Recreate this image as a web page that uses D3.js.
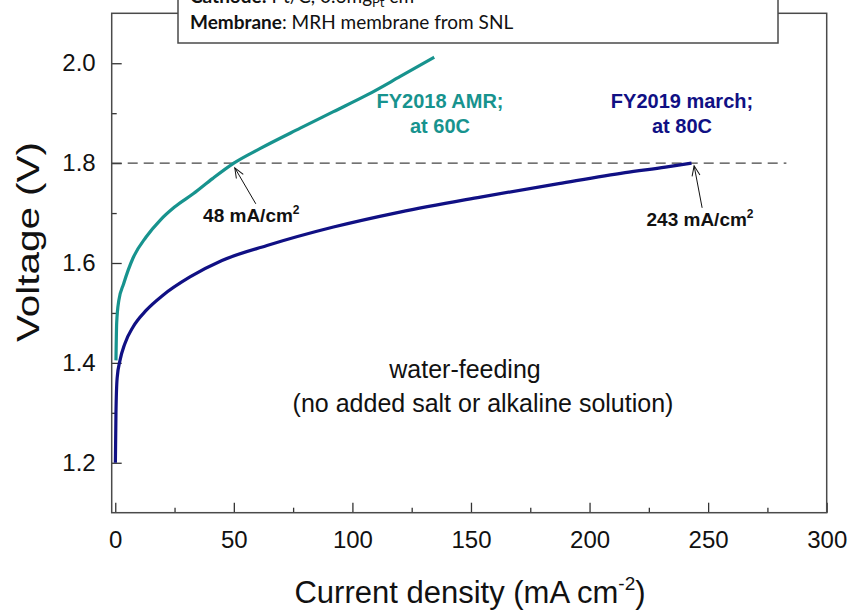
<!DOCTYPE html>
<html>
<head>
<meta charset="utf-8">
<script src="https://cdn.jsdelivr.net/npm/d3@7"></script>
<style>
  body { margin: 0; background: #fff; }
  svg { display: block; font-family: Arial, "Liberation Sans", sans-serif; }
</style>
</head>
<body>
<div id="chart"></div>
<script>
// FY2018 AMR, at 60C (teal curve)
const amrCurrent = [0.3, 0.6, 1.5, 3.5, 7.5, 13, 19, 25, 33, 41, 50, 61, 78, 92, 106, 120, 134.5];
const amrVoltage = [1.405, 1.48, 1.525, 1.558, 1.61, 1.652, 1.686, 1.712, 1.739, 1.769, 1.80, 1.829, 1.870, 1.903, 1.936, 1.973, 2.012];

// FY2019 march, at 80C (navy curve)
const marchCurrent = [0.05, 0.3, 0.8, 2, 4, 7.5, 13, 20, 31.5, 45, 64, 92, 120, 154, 187, 215, 232, 243];
const marchVoltage = [1.20, 1.30, 1.37, 1.405, 1.438, 1.472, 1.505, 1.535, 1.572, 1.605, 1.635, 1.672, 1.702, 1.732, 1.759, 1.781, 1.792, 1.80];

// axis ticks
const xTicks = [0, 50, 100, 150, 200, 250, 300];
const xMinor = [25, 75, 125, 175, 225, 275];
const yTicks = [1.2, 1.4, 1.6, 1.8, 2.0];
const yMinor = [1.3, 1.5, 1.7, 1.9];

// 1.8 V reference and the currents reached there
const refVoltage = 1.8;
const refEnd = 283;
const refCurrents = [48, 243];

const width = 852, height = 612;
const frame = { left: 111.7, right: 826.7, top: 13.3, bottom: 512.7 };

const svg = d3.select('#chart').append('svg')
  .attr('width', width)
  .attr('height', height);

const x = d3.scaleLinear().domain([-1.5, 300]).range([frame.left, frame.right]);
const y = d3.scaleLinear().domain([1.1, 2.1]).range([frame.bottom, frame.top]);

const teal = '#17938e';
const navy = '#101084';

// y axis, ticks pointing inside
svg.append('g')
  .attr('transform', `translate(${frame.left},0)`)
  .call(d3.axisLeft(y).tickValues(yTicks).tickSize(-10).tickPadding(16).tickFormat(d3.format('.1f')));
svg.append('g')
  .attr('transform', `translate(${frame.left},0)`)
  .call(d3.axisLeft(y).tickValues(yMinor).tickSize(-5).tickFormat(''));

// x axis
svg.append('g')
  .attr('transform', `translate(0,${frame.bottom})`)
  .call(d3.axisBottom(x).tickValues(xTicks).tickSize(-10).tickPadding(18));
svg.append('g')
  .attr('transform', `translate(0,${frame.bottom})`)
  .call(d3.axisBottom(x).tickValues(xMinor).tickSize(-5).tickFormat(''));

svg.selectAll('.domain').remove();
svg.selectAll('.tick line').attr('stroke', '#333').attr('stroke-width', 1.3);
svg.selectAll('.tick text')
  .attr('font-family', 'Arial, "Liberation Sans", sans-serif')
  .attr('font-size', 24)
  .attr('fill', '#111');

// frame
svg.append('rect')
  .attr('x', frame.left).attr('y', frame.top)
  .attr('width', frame.right - frame.left).attr('height', frame.bottom - frame.top)
  .attr('fill', 'none').attr('stroke', '#4a4a4a').attr('stroke-width', 1.5);

// dashed 1.8 V line
svg.append('line')
  .attr('x1', x(-1.5)).attr('x2', x(refEnd))
  .attr('y1', y(refVoltage)).attr('y2', y(refVoltage))
  .attr('stroke', '#444').attr('stroke-width', 1.2)
  .attr('stroke-dasharray', '10,6');

// curves
const line = d3.line()
  .x(d => x(d[0]))
  .y(d => y(d[1]))
  .curve(d3.curveMonotoneX);

svg.append('path')
  .datum(d3.zip(amrCurrent, amrVoltage))
  .attr('d', line)
  .attr('fill', 'none').attr('stroke', teal).attr('stroke-width', 3.2)
  .attr('stroke-linejoin', 'round');

svg.append('path')
  .datum(d3.zip(marchCurrent, marchVoltage))
  .attr('d', line)
  .attr('fill', 'none').attr('stroke', navy).attr('stroke-width', 3.2)
  .attr('stroke-linejoin', 'round');

// arrow markers
svg.append('defs').append('marker')
  .attr('id', 'head')
  .attr('markerUnits', 'userSpaceOnUse')
  .attr('markerWidth', 14).attr('markerHeight', 14)
  .attr('viewBox', '-2 -7 14 14')
  .attr('refX', 0).attr('refY', 0)
  .attr('orient', 'auto')
  .append('path')
  .attr('d', 'M10,-4 L0,0 L10,4')
  .attr('fill', 'none').attr('stroke', '#111').attr('stroke-width', 1);

// arrow offsets from the 1.8 V crossing, then label start
const arrowOffsets = [[5.7, 4.7, 26.7, 40.7], [2.6, 2.7, 10.6, 44.7]];
const labelOffsets = [[-26, 58.7], [-45, 62.7]];

refCurrents.forEach((c, i) => {
  const px = x(c), py = y(refVoltage);
  const a = arrowOffsets[i];
  svg.append('line')
    .attr('x1', px + a[0]).attr('y1', py + a[1])
    .attr('x2', px + a[2]).attr('y2', py + a[3])
    .attr('stroke', '#111').attr('stroke-width', 1)
    .attr('marker-start', 'url(#head)');
  const t = svg.append('text')
    .attr('x', px + labelOffsets[i][0]).attr('y', py + labelOffsets[i][1])
    .attr('font-size', 19).attr('font-weight', 'bold').attr('fill', '#111');
  t.append('tspan').text(c + ' mA/cm');
  t.append('tspan').attr('font-size', 12).attr('dy', -8).text('2');
});

// series labels
function label(lines, cx, y0, color) {
  lines.forEach((s, i) => {
    svg.append('text')
      .attr('x', cx).attr('y', y0 + i * 25)
      .attr('text-anchor', 'middle')
      .attr('font-size', 20).attr('font-weight', 'bold')
      .attr('fill', color)
      .text(s);
  });
}
label(['FY2018 AMR;', 'at 60C'], 440, 108, teal);
label(['FY2019 march;', 'at 80C'], 682, 108, navy);

// note about the feed
svg.append('text')
  .attr('x', 465).attr('y', 378)
  .attr('text-anchor', 'middle').attr('font-size', 25).attr('fill', '#111')
  .text('water-feeding');
svg.append('text')
  .attr('x', 483).attr('y', 412)
  .attr('text-anchor', 'middle').attr('font-size', 25).attr('fill', '#111')
  .text('(no added salt or alkaline solution)');

// axis titles
const xt = svg.append('text')
  .attr('x', 470).attr('y', 603)
  .attr('text-anchor', 'middle').attr('font-size', 31).attr('fill', '#111');
xt.append('tspan').text('Current density (mA cm');
xt.append('tspan').attr('font-size', 19).attr('dy', -13).text('-2');
xt.append('tspan').attr('dy', 13).text(')');

svg.append('text')
  .attr('transform', 'translate(39,242) rotate(-90)')
  .attr('text-anchor', 'middle').attr('font-size', 31).attr('fill', '#111')
  .attr('textLength', 200).attr('lengthAdjust', 'spacingAndGlyphs')
  .text('Voltage (V)');

// info box at the top, cut by the page edge
svg.append('rect')
  .attr('x', 178).attr('y', -40)
  .attr('width', 600).attr('height', 83)
  .attr('fill', '#fff').attr('stroke', '#4a4a4a').attr('stroke-width', 1.5);

const boxFont = 'Lato, "Open Sans", sans-serif';
const c1 = svg.append('text')
  .attr('x', 190).attr('y', 2.5)
  .attr('font-family', boxFont).attr('font-size', 19).attr('fill', '#111');
c1.append('tspan').attr('font-weight', 'bold').text('Cathode:');
c1.append('tspan').text(' Pt/C, 0.6mg');
c1.append('tspan').attr('font-size', 13).attr('dy', 4).text('Pt');
c1.append('tspan').attr('dy', -4).text(' cm');

const m1 = svg.append('text')
  .attr('x', 190).attr('y', 28.5)
  .attr('font-family', boxFont).attr('font-size', 19).attr('fill', '#111');
m1.append('tspan').attr('font-weight', 'bold').text('Membrane');
m1.append('tspan').text(': MRH membrane from SNL');
</script>
</body>
</html>
